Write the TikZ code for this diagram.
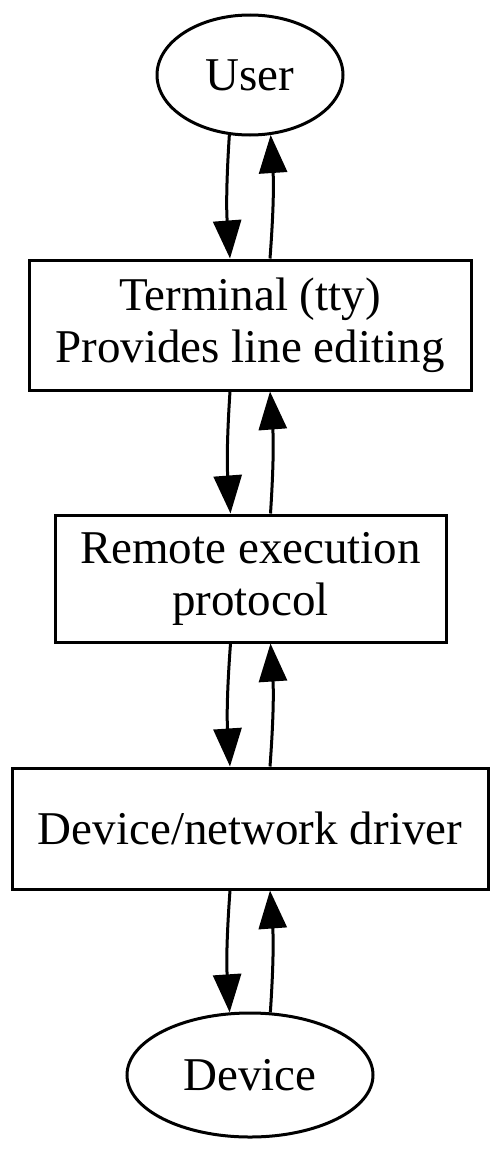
\documentclass[tikz,border=0pt]{standalone}
\usepackage{fontspec}
\setmainfont{Liberation Serif}
\usetikzlibrary{shapes.geometric,arrows.meta}

\begin{document}
\begin{tikzpicture}[
    x=1pt, y=-1pt,
    endpoint/.style={ellipse, draw=black, line width=3pt, inner sep=0pt,
        font=\fontsize{47}{52}\selectfont},
    layer/.style={rectangle, draw=black, line width=3pt, inner sep=0pt,
        align=center, font=\fontsize{47}{52}\selectfont},
    flow/.style={line width=3pt, -{Triangle[length=38pt,width=28pt]}}
]
    \useasboundingbox (0,0) rectangle (500,1151);
    \node[endpoint, minimum width=186pt, minimum height=120pt] (user) at (250,75) {User};
    \node[layer, minimum width=442pt, minimum height=130pt] (term) at (250,325) {Terminal (tty)\\Provides line editing};
    \node[layer, minimum width=391pt, minimum height=127pt] (remote) at (250.5,578.5) {Remote execution\\protocol};
    \node[layer, minimum width=476pt, minimum height=121pt] (driver) at (250,828.5) {Device/network driver};
    \node[endpoint, minimum width=246pt, minimum height=124pt] (device) at (250,1075) {Device};
    \draw[flow] (user.-109) to[bend right=4] ([xshift=-20pt]term.north);
    \draw[flow] ([xshift=20pt]term.north) to[bend right=4] (user.-71);
    \draw[flow] ([xshift=-20pt]term.south) to[bend right=4] ([xshift=-20pt]remote.north);
    \draw[flow] ([xshift=20pt]remote.north) to[bend right=4] ([xshift=20pt]term.south);
    \draw[flow] ([xshift=-20pt]remote.south) to[bend right=4] ([xshift=-20pt]driver.north);
    \draw[flow] ([xshift=20pt]driver.north) to[bend right=4] ([xshift=20pt]remote.south);
    \draw[flow] ([xshift=-20pt]driver.south) to[bend right=4] (device.108);
    \draw[flow] (device.72) to[bend right=4] ([xshift=20pt]driver.south);
\end{tikzpicture}
\end{document}
